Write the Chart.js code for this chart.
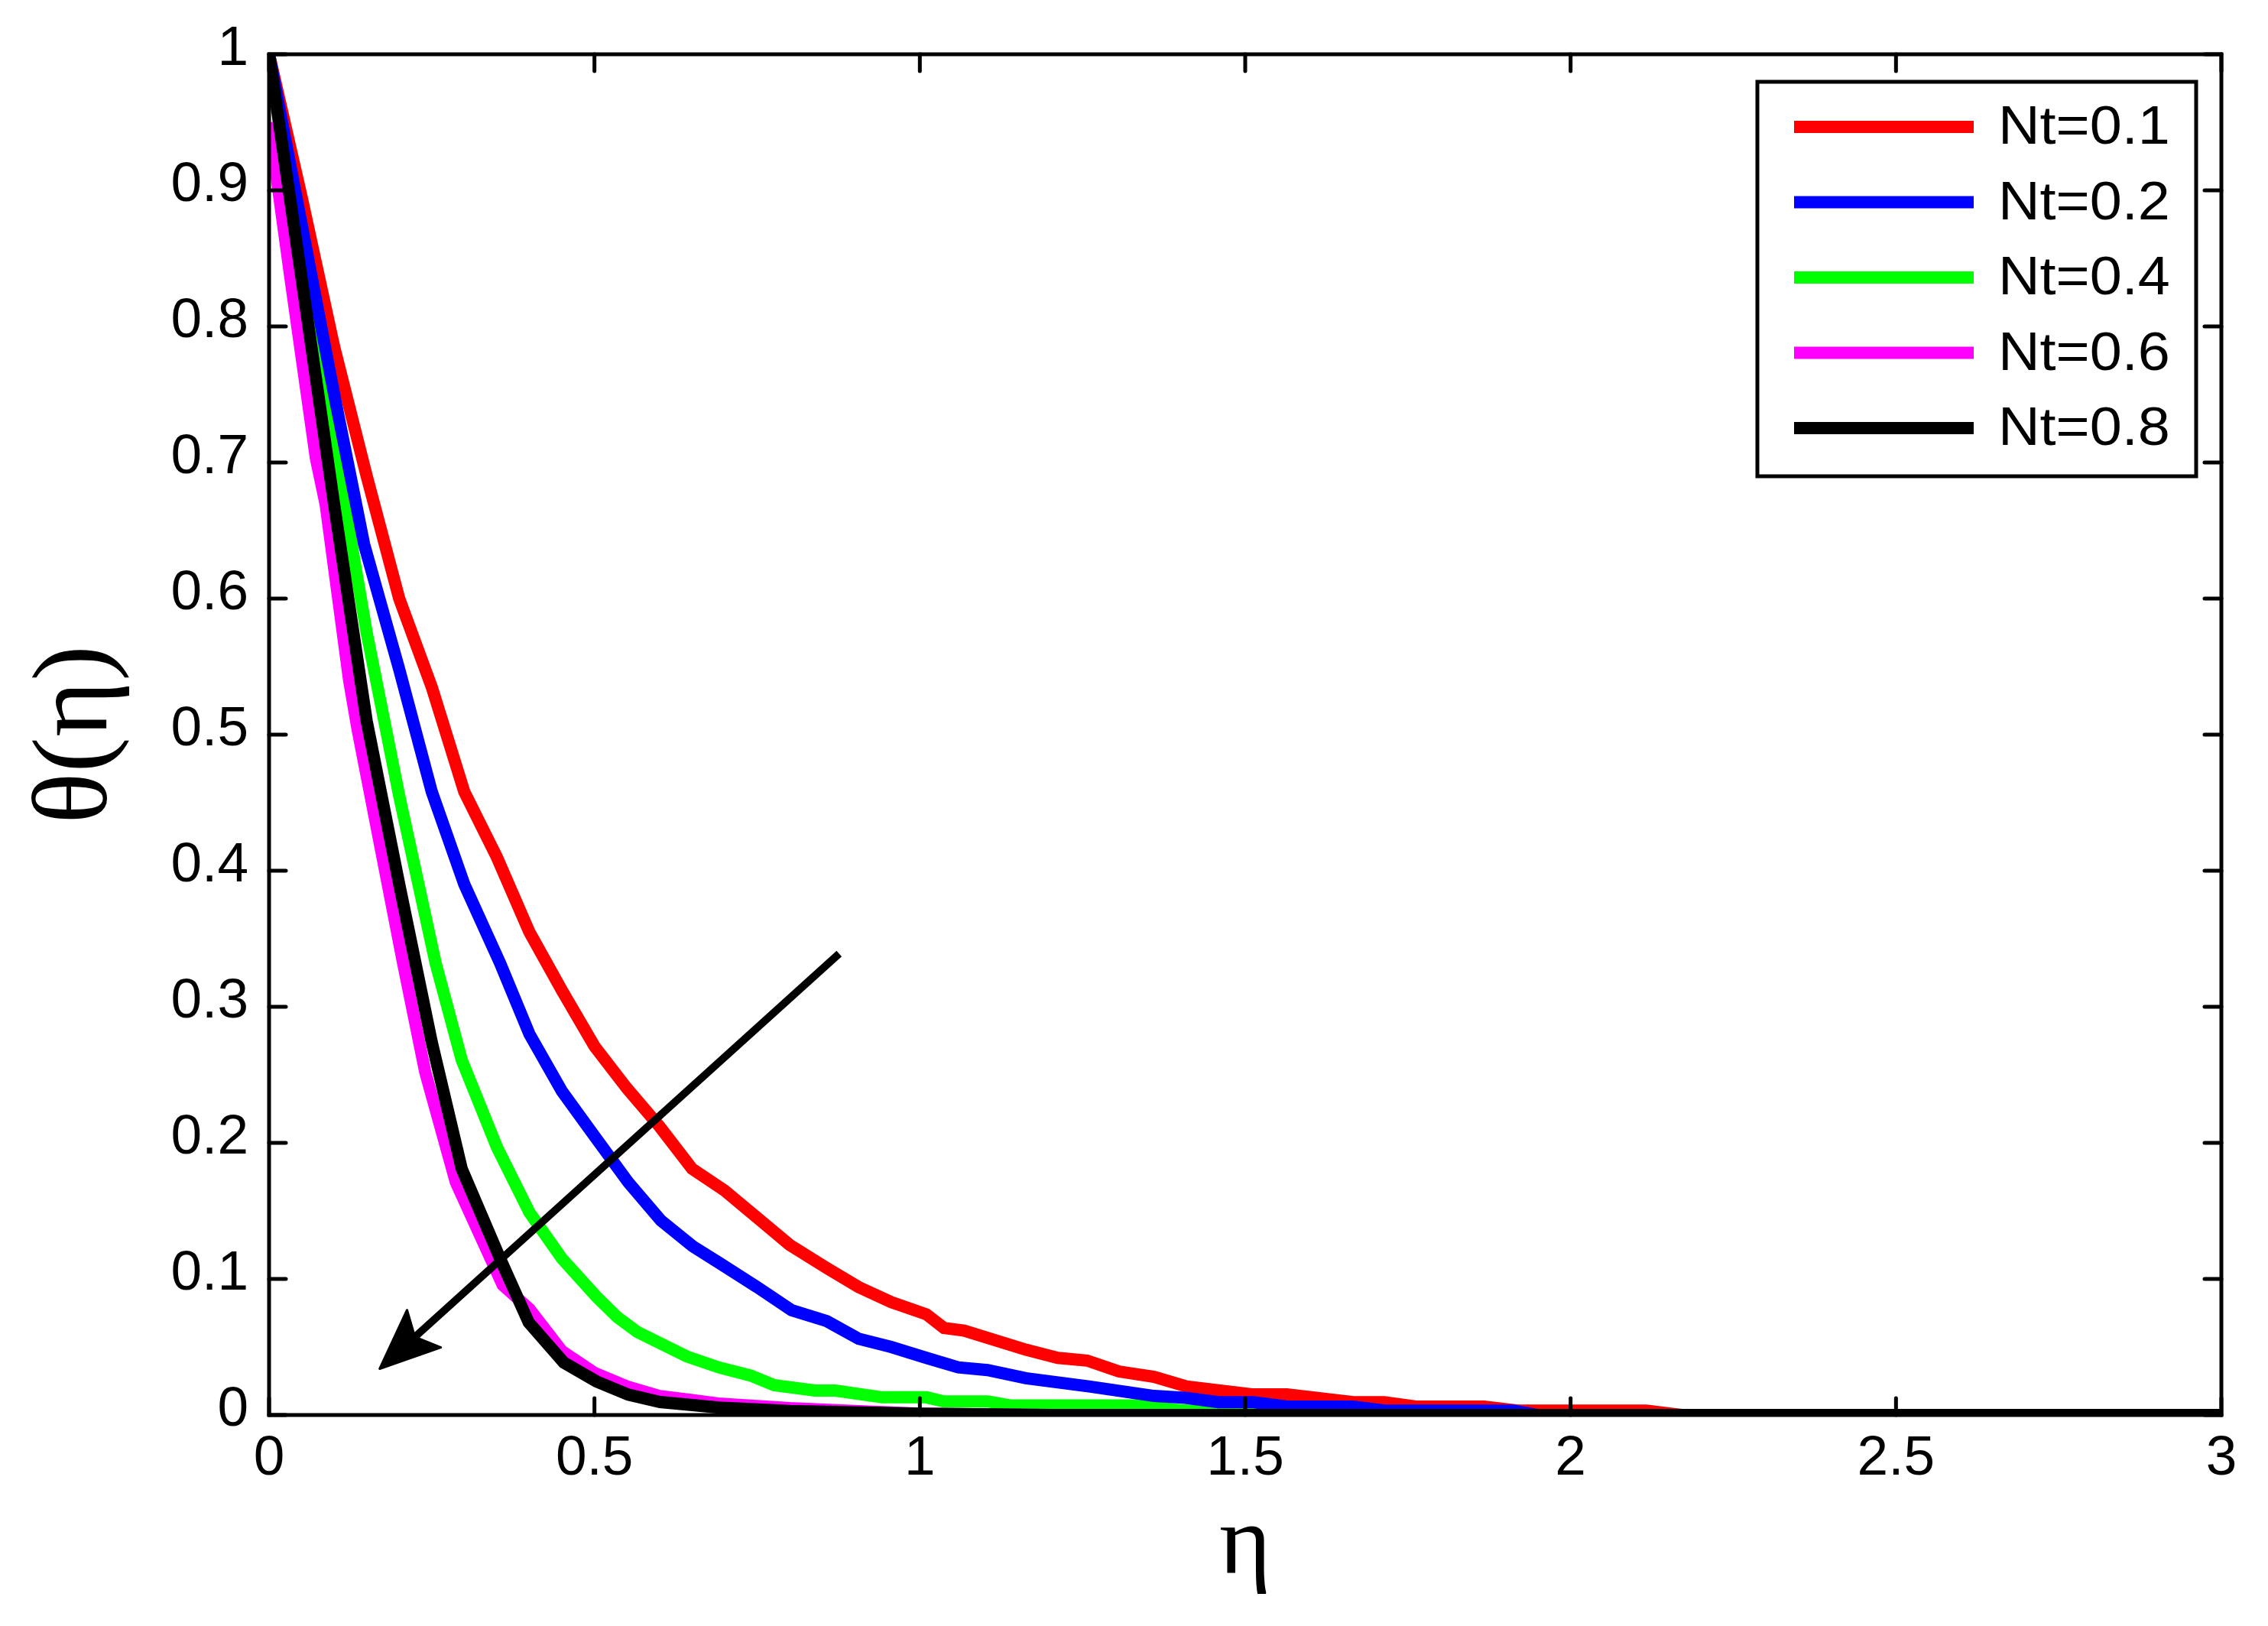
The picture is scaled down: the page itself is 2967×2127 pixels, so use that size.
<!DOCTYPE html>
<html>
<head>
<meta charset="utf-8">
<script src="https://cdn.jsdelivr.net/npm/chart.js@4.4.1/dist/chart.umd.min.js"></script>
<style>
  html, body { margin: 0; padding: 0; background: #ffffff; }
  #wrap { width: 2967px; height: 2127px; }
</style>
</head>
<body>
<div id="wrap"><canvas id="c" width="2967" height="2127"></canvas></div>
<script>
// ---------------- data ----------------
const seriesLabels = ['Nt=0.1', 'Nt=0.2', 'Nt=0.4', 'Nt=0.6', 'Nt=0.8'];
const seriesColors = ['#ff0000', '#0000ff', '#00ff00', '#ff00ff', '#000000'];

const etaNt01   = [0, 0.05, 0.1, 0.15, 0.2, 0.25, 0.3, 0.35, 0.4, 0.45, 0.5, 0.55, 0.6, 0.65, 0.7, 0.75, 0.8, 0.857, 0.906, 0.956, 1.01, 1.037, 1.068, 1.163, 1.212, 1.257, 1.306, 1.36, 1.41, 1.51, 1.564, 1.666, 1.714, 1.762, 1.867, 1.918, 2.116, 2.17, 3];
const thetaNt01 = [1, 0.895, 0.785, 0.69, 0.6, 0.535, 0.458, 0.41, 0.355, 0.312, 0.271, 0.24, 0.212, 0.181, 0.165, 0.145, 0.125, 0.108, 0.094, 0.083, 0.074, 0.064, 0.062, 0.048, 0.042, 0.04, 0.032, 0.028, 0.021, 0.0152, 0.0152, 0.0094, 0.0094, 0.0062, 0.0062, 0.0033, 0.0033, 0, 0];

const etaNt02   = [0, 0.05, 0.1, 0.146, 0.2, 0.25, 0.3, 0.355, 0.4, 0.45, 0.5, 0.552, 0.602, 0.651, 0.691, 0.75, 0.803, 0.857, 0.906, 0.956, 1.01, 1.059, 1.104, 1.163, 1.26, 1.36, 1.408, 1.459, 1.513, 1.564, 1.666, 1.714, 1.912, 1.95, 3];
const thetaNt02 = [1, 0.875, 0.75, 0.64, 0.548, 0.458, 0.39, 0.332, 0.28, 0.238, 0.205, 0.171, 0.143, 0.124, 0.112, 0.094, 0.077, 0.069, 0.056, 0.05, 0.042, 0.035, 0.033, 0.027, 0.021, 0.014, 0.0126, 0.0094, 0.0094, 0.0062, 0.0062, 0.0033, 0.0033, 0, 0];

const etaNt04   = [0, 0.05, 0.1, 0.15, 0.2, 0.256, 0.296, 0.35, 0.4, 0.45, 0.503, 0.535, 0.566, 0.642, 0.691, 0.74, 0.776, 0.839, 0.87, 0.942, 1.01, 1.037, 1.104, 1.14, 1.35, 1.39, 1.45, 1.6, 3];
const thetaNt04 = [1, 0.855, 0.715, 0.575, 0.455, 0.332, 0.261, 0.197, 0.149, 0.115, 0.087, 0.072, 0.061, 0.043, 0.035, 0.029, 0.022, 0.018, 0.018, 0.013, 0.013, 0.01, 0.01, 0.007, 0.007, 0.004, 0.002, 0, 0];

const etaNt06   = [0, 0.033, 0.072, 0.087, 0.123, 0.136, 0.206, 0.24, 0.287, 0.359, 0.4, 0.45, 0.5, 0.55, 0.6, 0.65, 0.69, 0.8, 0.9, 1.0, 1.2, 3];
const thetaNt06 = [0.95, 0.835, 0.703, 0.669, 0.54, 0.504, 0.332, 0.252, 0.171, 0.0955, 0.078, 0.047, 0.031, 0.021, 0.014, 0.011, 0.0085, 0.005, 0.003, 0.001, 0, 0];

const etaNt08   = [0, 0.05, 0.1, 0.15, 0.2, 0.25, 0.296, 0.355, 0.399, 0.453, 0.503, 0.552, 0.601, 0.691, 0.8, 0.9, 1.0, 1.2, 3];
const thetaNt08 = [1, 0.835, 0.669, 0.51, 0.39, 0.274, 0.181, 0.115, 0.068, 0.0385, 0.0247, 0.015, 0.0095, 0.0055, 0.003, 0.002, 0.001, 0, 0];

const xTickValues = [0, 0.5, 1, 1.5, 2, 2.5, 3];
const xTickLabels = ['0', '0.5', '1', '1.5', '2', '2.5', '3'];
const yTickValues = [0, 0.1, 0.2, 0.3, 0.4, 0.5, 0.6, 0.7, 0.8, 0.9, 1];
const yTickLabels = ['0', '0.1', '0.2', '0.3', '0.4', '0.5', '0.6', '0.7', '0.8', '0.9', '1'];

// arrow annotation (data units: tail -> head)
const arrowFrom = { x: 0.876, y: 0.339 };
const arrowTo   = { x: 0.170, y: 0.034 };

// ---------------- build datasets ----------------
const etaArrays   = [etaNt01, etaNt02, etaNt04, etaNt06, etaNt08];
const thetaArrays = [thetaNt01, thetaNt02, thetaNt04, thetaNt06, thetaNt08];
const drawOrder   = [5, 3, 4, 2, 1]; // lower = drawn on top

const datasets = seriesLabels.map((lab, i) => ({
  label: lab,
  data: etaArrays[i].map((x, k) => ({ x: x, y: thetaArrays[i][k] })),
  borderColor: seriesColors[i],
  backgroundColor: seriesColors[i],
  borderWidth: 16,
  pointRadius: 0,
  showLine: true,
  fill: false,
  tension: 0,
  order: drawOrder[i]
}));

const SANS = '"Liberation Sans", Arial, sans-serif';
const SERIF = '"Liberation Serif", "Times New Roman", serif';

// frame + inward ticks on all four sides
const framePlugin = {
  id: 'frame',
  afterDatasetsDraw(chart) {
    const { ctx, chartArea: a, scales } = chart;
    ctx.save();
    ctx.strokeStyle = '#000';
    ctx.lineWidth = 5;
    ctx.lineCap = 'round';
    const L = 22;
    xTickValues.forEach(v => {
      const px = scales.x.getPixelForValue(v);
      ctx.beginPath();
      ctx.moveTo(px, a.bottom); ctx.lineTo(px, a.bottom - L);
      ctx.moveTo(px, a.top); ctx.lineTo(px, a.top + L);
      ctx.stroke();
    });
    yTickValues.forEach(v => {
      const py = scales.y.getPixelForValue(v);
      ctx.beginPath();
      ctx.moveTo(a.left, py); ctx.lineTo(a.left + L, py);
      ctx.moveTo(a.right, py); ctx.lineTo(a.right - L, py);
      ctx.stroke();
    });
    ctx.lineCap = 'square';
    ctx.strokeRect(a.left, a.top, a.right - a.left, a.bottom - a.top);
    ctx.restore();
  }
};

// arrow annotation
const arrowPlugin = {
  id: 'arrow',
  afterDatasetsDraw(chart) {
    const { ctx, scales } = chart;
    const x0 = scales.x.getPixelForValue(arrowFrom.x), y0 = scales.y.getPixelForValue(arrowFrom.y);
    const x1 = scales.x.getPixelForValue(arrowTo.x), y1 = scales.y.getPixelForValue(arrowTo.y);
    const dx = x1 - x0, dy = y1 - y0, len = Math.hypot(dx, dy);
    const ux = dx / len, uy = dy / len, px = -uy, py = ux;
    const headLen = 78, halfW = 33, notch = 62;
    ctx.save();
    ctx.strokeStyle = '#000';
    ctx.fillStyle = '#000';
    ctx.lineWidth = 10;
    ctx.beginPath();
    ctx.moveTo(x0, y0);
    ctx.lineTo(x1 - ux * (notch - 4), y1 - uy * (notch - 4));
    ctx.stroke();
    ctx.beginPath();
    ctx.moveTo(x1, y1);
    ctx.lineTo(x1 - ux * headLen + px * halfW, y1 - uy * headLen + py * halfW);
    ctx.lineTo(x1 - ux * notch, y1 - uy * notch);
    ctx.lineTo(x1 - ux * headLen - px * halfW, y1 - uy * headLen - py * halfW);
    ctx.closePath();
    ctx.lineJoin = 'round';
    ctx.lineWidth = 3;
    ctx.fill();
    ctx.stroke();
    ctx.restore();
  }
};

// legend box inside the plot (top right)
const legendPlugin = {
  id: 'boxLegend',
  afterDraw(chart) {
    const { ctx } = chart;
    const bx = 2299, by = 107, bw = 574, bh = 516;
    ctx.save();
    ctx.fillStyle = '#fff';
    ctx.fillRect(bx, by, bw, bh);
    ctx.strokeStyle = '#000';
    ctx.lineWidth = 5;
    ctx.strokeRect(bx, by, bw, bh);
    seriesLabels.forEach((lab, i) => {
      const cy = 166 + i * 98.5;
      ctx.strokeStyle = seriesColors[i];
      ctx.lineWidth = 16;
      ctx.lineCap = 'butt';
      ctx.beginPath();
      ctx.moveTo(2347, cy);
      ctx.lineTo(2582, cy);
      ctx.stroke();
      ctx.save();
      ctx.translate(2614, cy + 3);
      ctx.scale(1.08, 1);
      ctx.font = '70px ' + SANS;
      ctx.textBaseline = 'middle';
      ctx.textAlign = 'left';
      ctx.fillStyle = '#000';
      ctx.fillText(lab, 0, 0);
      ctx.restore();
    });
    ctx.restore();
  }
};

new Chart(document.getElementById('c'), {
  type: 'scatter',
  data: { datasets: datasets },
  options: {
    responsive: false,
    animation: false,
    devicePixelRatio: 1,
    layout: { padding: { left: 0, right: 61, top: 71, bottom: 0 } },
    plugins: { legend: { display: false }, tooltip: { enabled: false } },
    scales: {
      x: {
        type: 'linear', min: 0, max: 3,
        grid: { display: false, drawTicks: false },
        border: { display: false },
        afterBuildTicks: s => { s.ticks = xTickValues.map(v => ({ value: v })); },
        afterFit: s => { s.height = 276; },
        ticks: {
          color: '#000', padding: 14, maxRotation: 0, autoSkip: false,
          font: { family: SANS, size: 73 },
          callback: (v) => xTickLabels[xTickValues.indexOf(v)]
        },
        title: {
          display: true, text: 'η', color: '#000',
          font: { family: SERIF, size: 130 },
          padding: { top: 0, bottom: 26 }
        }
      },
      y: {
        type: 'linear', min: 0, max: 1,
        grid: { display: false, drawTicks: false },
        border: { display: false },
        afterBuildTicks: s => { s.ticks = yTickValues.map(v => ({ value: v })); },
        afterFit: s => { s.width = 352; },
        ticks: {
          color: '#000', padding: 27, autoSkip: false, labelOffset: -6,
          font: { family: SANS, size: 73 },
          callback: (v) => yTickLabels[yTickValues.indexOf(v)]
        },
        title: {
          display: true, text: 'θ(η)', color: '#000',
          font: { family: SERIF, size: 140 },
          padding: { top: 18, bottom: 0 }
        }
      }
    }
  },
  plugins: [framePlugin, arrowPlugin, legendPlugin]
});
</script>
</body>
</html>
